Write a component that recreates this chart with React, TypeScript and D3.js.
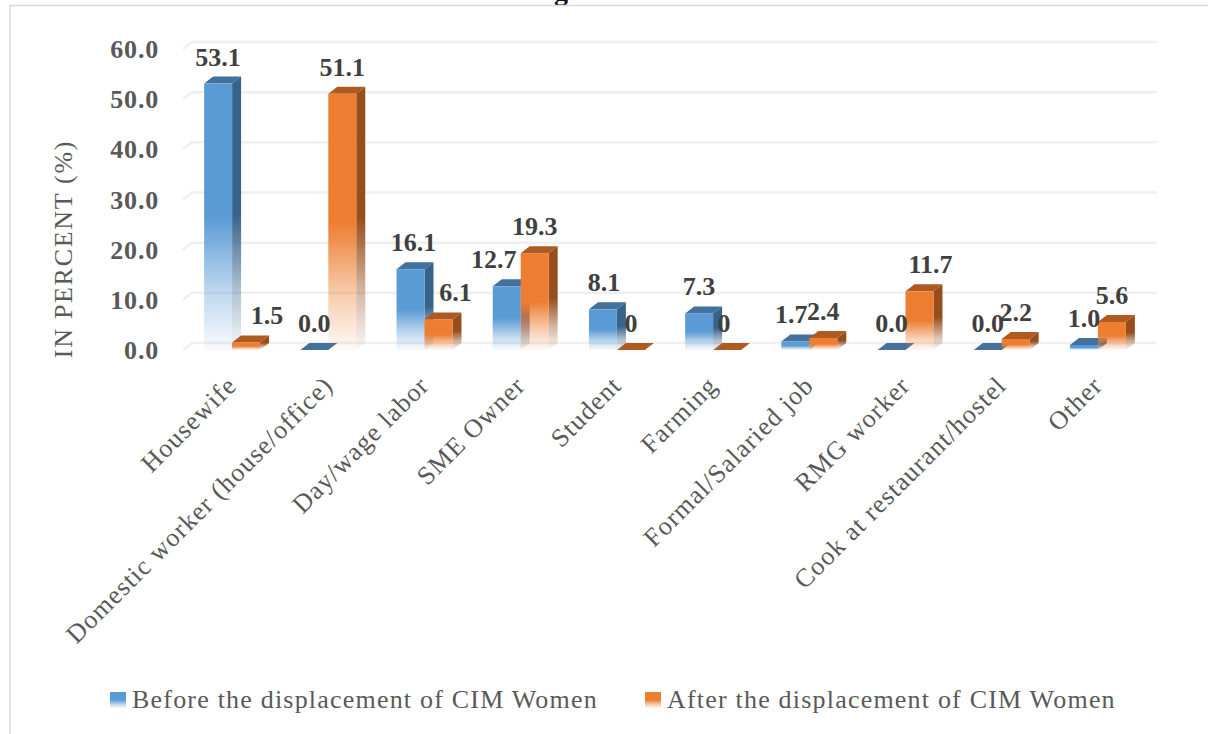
import React from "react";
import * as d3 from "d3";

const categories = ["Housewife","Domestic worker (house/office)","Day/wage labor","SME Owner","Student","Farming","Formal/Salaried job","RMG worker","Cook at restaurant/hostel","Other"];
const beforeValues = [53.1,0,16.1,12.7,8.1,7.3,1.7,0,0,1.0];
const afterValues = [1.5,51.1,6.1,19.3,0,0,2.4,11.7,2.2,5.6];
const beforeLabels = ["53.1","0.0","16.1","12.7","8.1","7.3","1.7","0.0","0.0","1.0"];
const afterLabels = ["1.5","51.1","6.1","19.3","0","0","2.4","11.7","2.2","5.6"];
const yTicks = [0,10,20,30,40,50,60];
const seriesNames = ["Before the displacement of CIM Women","After the displacement of CIM Women"];

// horizontal label shifts seen in the reference (layout only)
const beforeNudge = [0,0,3,-13,1,0,-4,0,0,0];
const afterNudge = [21,0,17,0,0,-3,0,11,0,0];

const FONT = "'Liberation Serif', serif";
const W = 1208, H = 734;
const DX = 9, DY = 7;
const x0 = d3.scaleBand<string>().domain(categories).range([184, 1146]);
const xs = d3.scaleBand<string>().domain(["b","a"]).range([0, x0.bandwidth()]).paddingInner(0).paddingOuter(0.72);
const y = d3.scaleLinear().domain([0,60]).range([350,49]);

const palette = {
  b: { front: "#5b9bd5", top: "#41719c", side: "#376289", id: "b" },
  a: { front: "#ed7d31", top: "#ae5a21", side: "#974e1c", id: "a" },
};

function Bar({ x, w, v, c }: any) {
  const yt = y(v), yb = y(0);
  const solid = v > 0;
  return (
    <g>
      {solid && <path d={`M${x+w},${yt} L${x+w+DX},${yt-DY} L${x+w+DX},${yb-DY} L${x+w},${yb} Z`} fill={`url(#grad-${c.id}-side)`} />}
      <path d={`M${x},${yt} L${x+DX},${yt-DY} L${x+w+DX},${yt-DY} L${x+w},${yt} Z`} fill={c.top} />
      {solid && <rect x={x} y={yt} width={w} height={yb-yt} fill={`url(#grad-${c.id}-front)`} />}
    </g>
  );
}

function Grad({ id, color }: any) {
  return (
    <linearGradient id={id} x1="0" x2="0" y1="1" y2="0">
      <stop offset="0" stopColor={color} stopOpacity={0.04} />
      <stop offset="0.22" stopColor={color} stopOpacity={0.4} />
      <stop offset="0.5" stopColor={color} stopOpacity={1} />
      <stop offset="1" stopColor={color} stopOpacity={1} />
    </linearGradient>
  );
}

export default function App() {
  const left = x0.range()[0];
  return (
    <svg width={W} height={H} style={{ position: "absolute", left: 0, top: 0, background: "#fff" }} fontFamily={FONT}>
      <defs>
        <Grad id="grad-b-front" color={palette.b.front} />
        <Grad id="grad-a-front" color={palette.a.front} />
        <Grad id="grad-b-side" color={palette.b.side} />
        <Grad id="grad-a-side" color={palette.a.side} />
        <Grad id="leg-b" color={palette.b.front} />
        <Grad id="leg-a" color={palette.a.front} />
      </defs>
      <text x={561} y={0} textAnchor="middle" fontSize={28} fontWeight={700} fill="#111">g</text>
      <path d="M10,734 V5.5 H1208" fill="none" stroke="#d9d9d9" strokeWidth={1.5} />
      {yTicks.map(t => (
        <g key={t}>
          <path d={`M${left-1},${y(t)} L${left+DX-1},${y(t)-DY} H1157`} fill="none" stroke="#efefef" strokeWidth={2.5} />
          <text x={159} y={y(t)+9} textAnchor="end" fontSize={26} fontWeight={700} fill="#595959" letterSpacing={0.8}>{t.toFixed(1)}</text>
        </g>
      ))}
      <text transform="translate(72,249) rotate(-90)" textAnchor="middle" fontSize={26} fill="#595959" letterSpacing={1.7}>IN PERCENT (%)</text>
      {categories.map((cat, i) => {
        const bx = x0(cat)! + xs("b")!, ax = x0(cat)! + xs("a")!, w = xs.bandwidth();
        return (
          <g key={cat}>
            <Bar x={bx} w={w} v={beforeValues[i]} c={palette.b} />
            <Bar x={ax} w={w} v={afterValues[i]} c={palette.a} />
          </g>
        );
      })}
      {categories.map((cat, i) => {
        const bx = x0(cat)! + xs("b")!, ax = x0(cat)! + xs("a")!, w = xs.bandwidth();
        const c = x0(cat)! + x0.bandwidth()/2;
        return (
          <g key={cat + "l"} fontSize={26} fontWeight={700} fill="#404040" textAnchor="middle">
            <text x={bx+w/2+beforeNudge[i]} y={y(beforeValues[i])-18}>{beforeLabels[i]}</text>
            <text x={ax+w/2+afterNudge[i]} y={y(afterValues[i])-18}>{afterLabels[i]}</text>
            <text transform={`translate(${c+6},387) rotate(-45)`} textAnchor="end" fontSize={26} fontWeight={400} fill="#595959" letterSpacing={1.1}>{cat}</text>
          </g>
        );
      })}
      <rect x={110} y={692} width={16} height={16} fill="url(#leg-b)" />
      <text x={132} y={708} fontSize={26} fill="#595959" letterSpacing={1.2}>{seriesNames[0]}</text>
      <rect x={645} y={692} width={16} height={16} fill="url(#leg-a)" />
      <text x={667} y={708} fontSize={26} fill="#595959" letterSpacing={1.2}>{seriesNames[1]}</text>
    </svg>
  );
}
